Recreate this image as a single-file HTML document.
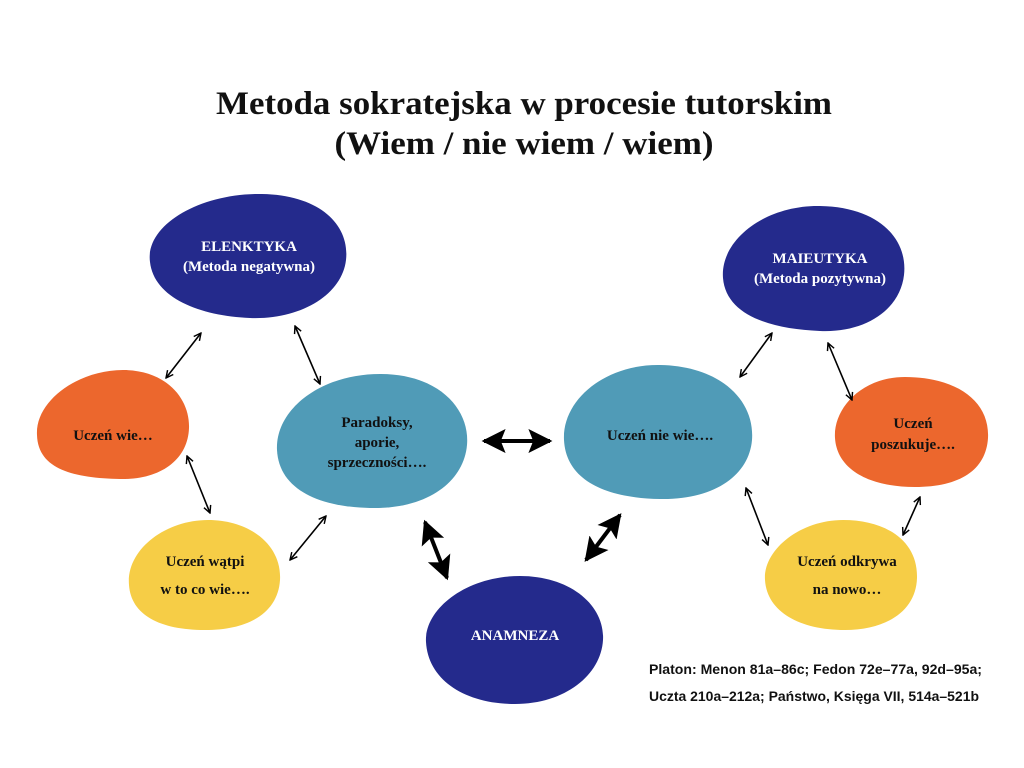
<!DOCTYPE html>
<html><head><meta charset="utf-8"><style>
html,body{margin:0;padding:0;background:#fff;width:1024px;height:768px;overflow:hidden}
svg{display:block}
.t{font-family:"Liberation Serif",serif;font-weight:bold;text-anchor:middle}
</style></head><body>
<svg width="1024" height="768" viewBox="0 0 1024 768" xmlns="http://www.w3.org/2000/svg">
<defs>
<marker id="a" viewBox="0 0 10 10" refX="9" refY="5" markerWidth="9" markerHeight="9" orient="auto-start-reverse" markerUnits="userSpaceOnUse"><path d="M1,1 L9,5 L1,9" fill="none" stroke="#000" stroke-width="1.6"/></marker>
<marker id="b" viewBox="0 0 10 10" refX="9" refY="5" markerWidth="24" markerHeight="24" orient="auto-start-reverse" markerUnits="userSpaceOnUse"><path d="M0,0 L10,5 L0,10 L2,5 Z" fill="#000"/></marker>
</defs>
<text class="t" x="524" y="114" font-size="33" fill="#111" textLength="616" lengthAdjust="spacingAndGlyphs">Metoda sokratejska w procesie tutorskim</text>
<text class="t" x="524" y="154" font-size="33" fill="#111" textLength="379" lengthAdjust="spacingAndGlyphs">(Wiem / nie wiem / wiem)</text>

<path d="M150,262 C145,225 200,193 262,194 C320,195 350,225 346,260 C342,295 300,320 250,318 C200,316 154,298 150,262Z" fill="#242a8c"/>
<path d="M723,278 C720,240 765,205 820,206 C880,207 908,240 904,275 C900,310 865,333 820,331 C770,329 726,315 723,278Z" fill="#242a8c"/>
<path d="M37,435 C35,400 80,369 125,370 C168,371 190,400 189,428 C188,460 160,480 120,479 C75,478 38,470 37,435Z" fill="#ec672d"/>
<path d="M277,450 C275,410 320,374 380,374 C440,374 470,410 467,445 C464,480 430,508 375,508 C320,508 279,490 277,450Z" fill="#509bb7"/>
<path d="M564,440 C562,400 605,364 660,365 C720,366 755,400 752,440 C749,475 715,500 660,499 C605,498 566,480 564,440Z" fill="#509bb7"/>
<path d="M835,438 C833,410 860,377 905,377 C955,377 990,400 988,438 C986,470 960,487 915,487 C870,487 837,470 835,438Z" fill="#ec672d"/>
<path d="M129,585 C126,550 165,520 208,520 C250,520 282,545 280,580 C278,612 250,630 205,630 C160,630 131,615 129,585Z" fill="#f6cd46"/>
<path d="M765,580 C763,550 800,520 843,520 C885,520 918,540 917,578 C916,612 885,630 845,630 C800,630 767,612 765,580Z" fill="#f6cd46"/>
<path d="M426,642 C424,610 465,576 520,576 C570,576 605,605 603,640 C601,675 565,704 515,704 C465,704 428,680 426,642Z" fill="#242a8c"/>

<g class="t" font-size="15" fill="#fff">
<text x="249" y="251">ELENKTYKA</text>
<text x="249" y="271">(Metoda negatywna)</text>
<text x="820" y="263">MAIEUTYKA</text>
<text x="820" y="283">(Metoda pozytywna)</text>
<text x="515" y="640">ANAMNEZA</text>
</g>
<g class="t" font-size="15" fill="#111">
<text x="113" y="440">Uczeń wie…</text>
<text x="377" y="427">Paradoksy,</text>
<text x="377" y="447">aporie,</text>
<text x="377" y="467">sprzeczności….</text>
<text x="660" y="440">Uczeń nie wie….</text>
<text x="913" y="428">Uczeń</text>
<text x="913" y="449">poszukuje….</text>
<text x="205" y="566">Uczeń wątpi</text>
<text x="205" y="594">w to co wie….</text>
<text x="847" y="566">Uczeń odkrywa</text>
<text x="847" y="594">na nowo…</text>
</g>

<g stroke="#000" stroke-width="1.6" marker-start="url(#a)" marker-end="url(#a)">
<line x1="201" y1="333" x2="166" y2="378"/>
<line x1="295" y1="326" x2="320" y2="384"/>
<line x1="187" y1="456" x2="210" y2="513"/>
<line x1="326" y1="516" x2="290" y2="560"/>
<line x1="772" y1="333" x2="740" y2="377"/>
<line x1="828" y1="343" x2="852" y2="400"/>
<line x1="746" y1="488" x2="768" y2="545"/>
<line x1="920" y1="497" x2="903" y2="535"/>
</g>
<g stroke="#000" stroke-width="4" marker-start="url(#b)" marker-end="url(#b)">
<line x1="484" y1="441" x2="550" y2="441"/>
<line x1="425" y1="522" x2="447" y2="578"/>
<line x1="620" y1="515" x2="586" y2="560"/>
</g>

<g font-family="Liberation Sans,sans-serif" font-size="13.5" font-weight="bold" fill="#111">
<text x="649" y="674" textLength="333" lengthAdjust="spacingAndGlyphs">Platon: Menon 81a–86c; Fedon 72e–77a, 92d–95a;</text>
<text x="649" y="701" textLength="330" lengthAdjust="spacingAndGlyphs">Uczta 210a–212a; Państwo, Księga VII, 514a–521b</text>
</g>
</svg>
</body></html>
